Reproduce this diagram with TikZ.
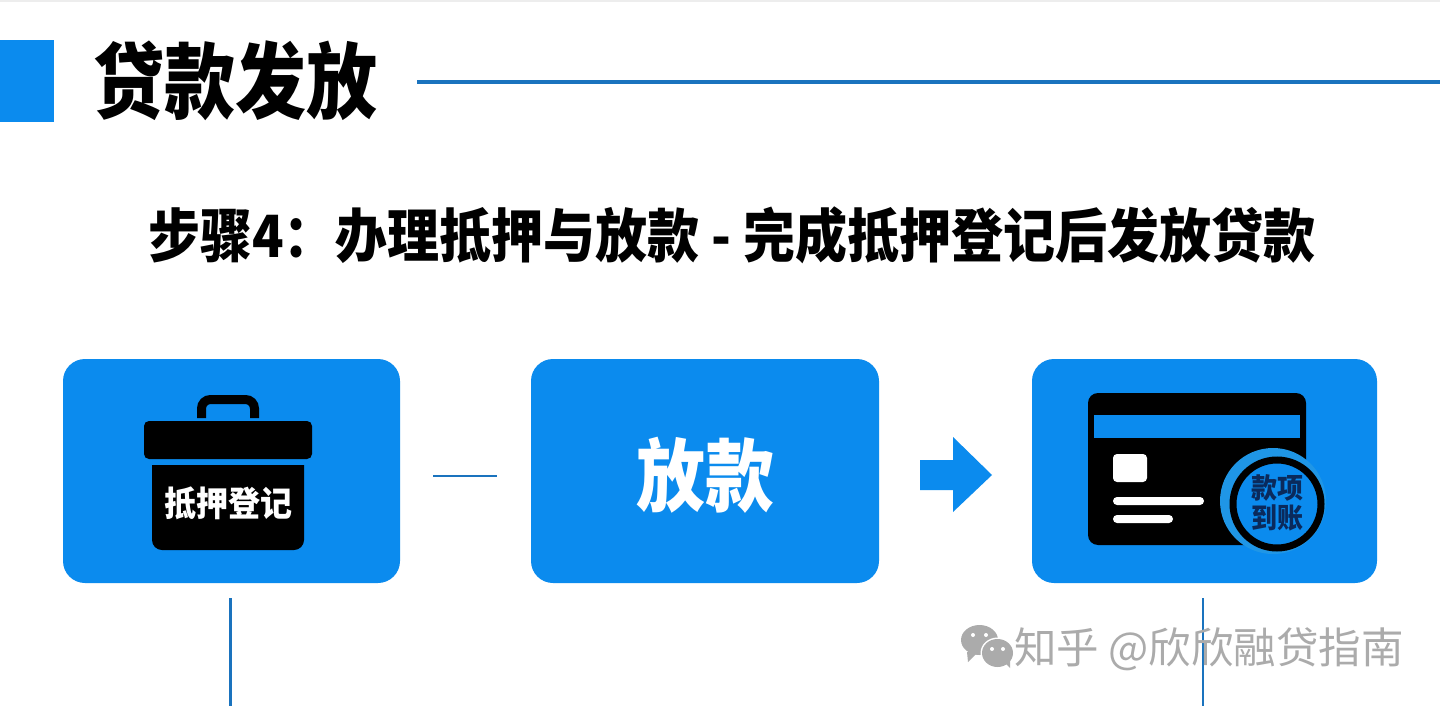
\documentclass[tikz,border=0pt]{standalone}
\usepackage{fontspec}
\usepackage{tikz}
\usetikzlibrary{calc}
\newfontfamily\cjk{Noto Sans CJK SC}
\definecolor{kartenblau}{HTML}{0B8BEE}
\definecolor{ringblau}{HTML}{1F96E6}
\definecolor{linienblau}{HTML}{1A73BE}
\definecolor{marke}{HTML}{ABABAB}
\definecolor{tinte}{HTML}{0A2A5C}
\tikzset{
	kachel/.style={fill=kartenblau,rounded corners=22pt,inner sep=0pt,minimum height=224pt},
	linie/.style={linienblau,line width=2.6pt},
	titel/.style={inner sep=0pt,font=\cjk\bfseries},
	schwarz/.style={fill=black,draw=none},
}
\begin{document}
\begin{tikzpicture}[x=1pt,y=-1pt]
	\useasboundingbox (0,0) rectangle (1440,706);
	\fill[white] (0,0) rectangle (1440,706);
	\fill[black!7] (0,0) rectangle (1440,2);
	\fill[kartenblau] (0,40) rectangle (54,122);
	\node[titel,yscale=1.17,font=\cjk\bfseries\fontsize{71}{71}\selectfont] (haupt) at (235,81) {贷款发放};
	\coordinate (h1) at (417,82);
	\coordinate (h2) at (1440,82);
	\draw[linie,line width=3.4pt] (h1) -- (h2);
	\node[titel,yscale=1.12,font=\cjk\bfseries\fontsize{52}{52}\selectfont] (unter) at (732,235) {步骤4：办理抵押与放款 - 完成抵押登记后发放贷款};
	\node[kachel,minimum width=337pt] (k1) at (231.5,471) {};
	\node[kachel,minimum width=348pt] (k2) at (705,471) {};
	\node[kachel,minimum width=345pt] (k3) at (1204.5,471) {};
	\node[titel,text=white,xscale=.97,yscale=1.12,font=\cjk\bfseries\fontsize{71}{71}\selectfont] (geld) at (705,475) {放款};
	\coordinate (m1) at (433,476);
	\coordinate (m2) at (497,476);
	\draw[linie] (m1) -- (m2);
	\fill[kartenblau] (920,460) -- (953,460) -- (953,437) -- (992,475) -- (953,512) -- (953,490) -- (920,490) -- cycle;
	\coordinate (u1) at (230.5,598);
	\coordinate (u2) at (230.5,706);
	\draw[linie] (u1) -- (u2);
	\coordinate (u3) at (1203,598);
	\coordinate (u4) at (1203,706);
	\draw[linie] (u3) -- (u4);
	\draw[line width=9pt,rounded corners=9pt] (201.5,418) -- (201.5,399.5) -- (254.5,399.5) -- (254.5,418);
	\fill[schwarz,rounded corners=5pt] (144,421) rectangle (312,459);
	\fill[schwarz] (152,465) {[rounded corners=10pt] -- (152,550) -- (304,550)} -- (304,465) -- cycle;
	\node[titel,text=white,yscale=1.08,font=\cjk\bfseries\fontsize{32}{32}\selectfont] (dok) at (228,503) {抵押登记};
	\fill[schwarz,rounded corners=10pt] (1088,393) rectangle (1306,545);
	\fill[kartenblau] (1094,415) rectangle (1300,438);
	\fill[white,rounded corners=4pt] (1113,454) rectangle (1147,482);
	\fill[white,rounded corners=4pt] (1113,497) rectangle (1204,505);
	\fill[white,rounded corners=4pt] (1113,515) rectangle (1173,523);
	\fill[ringblau] (1273,501) circle (53pt);
	\draw[black,line width=7pt,fill=kartenblau] (1277,504) circle (44pt);
	\node[titel,text=tinte,align=center,yscale=1.08,font=\cjk\bfseries\fontsize{26}{28}\selectfont] (stempel) at (1277,503) {款项\\到账};
	\fill[marke] (979.5,640) ellipse (18.5pt and 15pt);
	\fill[marke] (967,652) -- (968,662) -- (978,652) -- cycle;
	\fill[white] (997.5,653) ellipse (17pt and 15.5pt);
	\fill[marke] (997.5,653) ellipse (15.5pt and 14pt);
	\fill[marke] (1004,662) -- (1010,668) -- (1010,658) -- cycle;
	\foreach \wx/\wy in {973/635,986/635,992/649,1003/649}
		\fill[white] (\wx,\wy) circle (2pt);
	\node[marke,inner sep=0pt,anchor=west,font=\cjk\fontsize{42.5}{42.5}\selectfont] (wasser) at (1014,649) {知乎 @欣欣融贷指南};
\end{tikzpicture}
\end{document}
